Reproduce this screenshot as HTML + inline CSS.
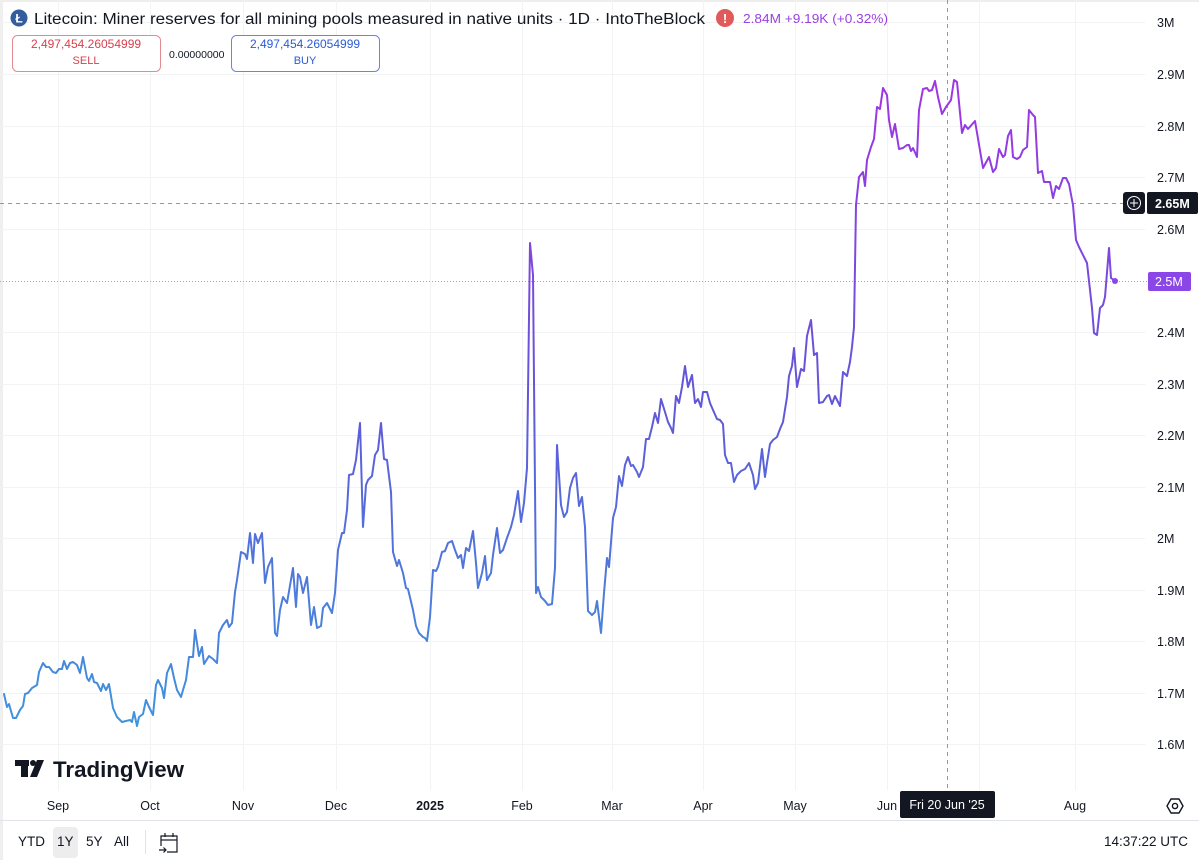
<!DOCTYPE html>
<html>
<head>
<meta charset="utf-8">
<style>
  html,body{margin:0;padding:0;background:#fff;}
  body{width:1199px;height:860px;overflow:hidden;}
  svg{display:block;font-family:"Liberation Sans",Arial,sans-serif;}
</style>
</head>
<body>
<svg width="1199" height="860" viewBox="0 0 1199 860" xmlns="http://www.w3.org/2000/svg">
  <defs>
    <linearGradient id="lg" gradientUnits="userSpaceOnUse" x1="0" y1="80" x2="0" y2="720">
      <stop offset="0" stop-color="#a134e4"/>
      <stop offset="0.5" stop-color="#6157d8"/>
      <stop offset="1" stop-color="#3f93de"/>
    </linearGradient>
  </defs>
  <rect x="0" y="0" width="1199" height="860" fill="#fff"/>
  <rect x="0" y="0" width="1199" height="2" fill="#eeeeee"/>
  <rect x="0" y="0" width="3" height="860" fill="#efefef"/>

  <!-- grid -->
  <g stroke="#f2f3f5" stroke-width="1">
    <line x1="0" y1="22.5" x2="1145" y2="22.5"/>
    <line x1="0" y1="74.5" x2="1145" y2="74.5"/>
    <line x1="0" y1="126.5" x2="1145" y2="126.5"/>
    <line x1="0" y1="177.5" x2="1145" y2="177.5"/>
    <line x1="0" y1="229.5" x2="1145" y2="229.5"/>
    <line x1="0" y1="332.5" x2="1145" y2="332.5"/>
    <line x1="0" y1="384.5" x2="1145" y2="384.5"/>
    <line x1="0" y1="435.5" x2="1145" y2="435.5"/>
    <line x1="0" y1="487.5" x2="1145" y2="487.5"/>
    <line x1="0" y1="538.5" x2="1145" y2="538.5"/>
    <line x1="0" y1="590.5" x2="1145" y2="590.5"/>
    <line x1="0" y1="641.5" x2="1145" y2="641.5"/>
    <line x1="0" y1="693.5" x2="1145" y2="693.5"/>
    <line x1="0" y1="744.5" x2="1145" y2="744.5"/>
    <line x1="58.5" y1="0" x2="58.5" y2="790"/>
    <line x1="150.5" y1="0" x2="150.5" y2="790"/>
    <line x1="243.5" y1="0" x2="243.5" y2="790"/>
    <line x1="336.5" y1="0" x2="336.5" y2="790"/>
    <line x1="430.5" y1="0" x2="430.5" y2="790"/>
    <line x1="522.5" y1="0" x2="522.5" y2="790"/>
    <line x1="612.5" y1="0" x2="612.5" y2="790"/>
    <line x1="703.5" y1="0" x2="703.5" y2="790"/>
    <line x1="795.5" y1="0" x2="795.5" y2="790"/>
    <line x1="887.5" y1="0" x2="887.5" y2="790"/>
    <line x1="979.5" y1="0" x2="979.5" y2="790"/>
    <line x1="1075.5" y1="0" x2="1075.5" y2="790"/>
  </g>

  <!-- crosshair & price line -->
  <line x1="0" y1="203.5" x2="1123" y2="203.5" stroke="#9598a1" stroke-width="1" stroke-dasharray="4 4"/>
  <line x1="947.5" y1="0" x2="947.5" y2="791" stroke="#9598a1" stroke-width="1" stroke-dasharray="4 4"/>
  <line x1="0" y1="281.5" x2="1148" y2="281.5" stroke="#a3a6ae" stroke-width="1" stroke-dasharray="1 2"/>

  <!-- series -->
  <polyline fill="none" stroke="url(#lg)" stroke-width="2" stroke-linejoin="round" stroke-linecap="round" points="
4,694 7,707 9,704 13,718 16,718 20,710 23,706 25,694 28,693 32,688 37,685 39,672 43,663 46,667 49,667 53,672 56,673 59,669 62,669 64,661 67,669 70,663 73,662 77,665 80,673 83,657 87,678 89,681 92,674 94,682 97,683 101,691 103,684 106,690 109,684 113,708 117,717 122,722 126,721 130,720 132,722 134,712 137,726 139,717 143,714 146,700 149,707 153,715 156,685 158,680 162,688 164,698 167,673 171,664 174,678 177,690 181,697 183,690 186,680 189,657 193,657 195,630 199,656 202,647 204,664 209,656 213,659 217,663 219,633 223,625 227,620 229,627 232,623 235,592 237,580 241,552 245,554 247,559 250,533 253,563 255,534 258,543 262,533 265,583 268,567 272,558 275,633 277,636 280,610 283,597 287,603 293,568 296,607 298,574
300,577 303,593 307,577 311,625 314,607 317,628 321,626 323,608 327,603 332,613 335,593 338,550 342,533 344,533 347,510 349,475 353,474 356,460 360,423 363,527 366,485 368,480 372,476 375,455 378,450 381,423 384,459 387,460 391,492 393,552 397,566 399,560 403,573 406,588 408,589 413,610 416,626 419,633 423,637 425,638 427,641 430,617 433,570 436,571 438,567 442,552 445,551 448,543 452,541 455,550 458,558 461,555 463,568 466,548 469,551 473,531 476,563 478,588 482,573 485,556 487,580 491,573 493,555 497,528 500,553 503,550 507,538 511,527 514,515 518,491 521,522 524,503 527,468 530,243 533,275 536,593 538,587 541,597 545,601 548,605 552,604 555,568 557,445 561,505 564,517 567,512 570,488 573,478 576,473 579,506 582,497 585,527 588,611 592,615 595,612 597,601 601,633 604,593 607,558 609,567 613,518 616,507 619,476 622,486 625,465 628,457
631,466 633,465 637,472 639,477 643,467 646,439 649,439 652,427 655,413 658,423 661,399 665,412 668,422 671,428 673,433 676,396 679,403 682,387 685,366 688,387 692,375 695,403 698,399 701,407 703,392 707,392 710,403 713,410 717,419 720,420 723,424 725,455 728,463 731,463 734,482 737,475 741,471 745,469 749,463 753,475 755,489 758,483 762,449 765,477 767,463 770,444 773,440 777,437 780,429 783,422 787,397 789,376 792,366 794,348 797,387 801,369 804,371 807,336 811,320 814,355 817,353 819,403 823,402 827,396 829,395 832,404 835,396 840,406 843,372 847,376 850,362 852,347 854,327
856,205 859,177 863,172 865,186 867,160 871,147 874,139 877,107 880,109 883,88 887,95 889,120 892,137 895,124 899,149 903,148 907,145 909,145 911,151 913,148 917,157 919,110 923,89 927,88 929,91 932,90 935,81 938,97 942,114 946,107 951,100 954,80 957,82 962,133 965,125 968,129 975,121 983,168 989,157 993,172 996,168 999,149 1003,157 1005,155 1008,136 1011,130 1013,157 1017,159 1020,157 1023,150 1027,147 1029,110 1033,115 1035,117 1038,173 1042,171 1044,182 1050,182 1053,198 1056,186 1059,189 1063,178 1066,178 1069,184 1073,205 1076,240 1079,247 1087,263 1092,308 1094,333 1097,335 1100,308 1103,305 1105,297 1109,248 1111,278 1115,281"/>
  <circle cx="1115" cy="281" r="3" fill="#8746e6"/>

  <!-- header -->
  <circle cx="19" cy="18" r="8.5" fill="#345d9d"/>
  <text x="19" y="22.5" font-size="12" font-weight="bold" fill="#fff" text-anchor="middle">Ł</text>
  <text x="34" y="24" font-size="15.5" fill="#131722" textLength="671" lengthAdjust="spacingAndGlyphs">Litecoin: Miner reserves for all mining pools measured in native units · 1D · IntoTheBlock</text>
  <circle cx="725" cy="18" r="9" fill="#e05a5a"/>
  <text x="725" y="23" font-size="13" font-weight="bold" fill="#fff" text-anchor="middle">!</text>
  <text x="743" y="23" font-size="13" fill="#9b3fe0" textLength="145" lengthAdjust="spacingAndGlyphs">2.84M  +9.19K (+0.32%)</text>

  <rect x="12.5" y="35.5" width="148" height="36" rx="5" fill="#fff" stroke="#e28a90"/>
  <text x="86" y="48" font-size="12" fill="#d8404e" text-anchor="middle">2,497,454.26054999</text>
  <text x="86" y="64" font-size="11" fill="#d8404e" text-anchor="middle">SELL</text>
  <text x="169" y="58" font-size="10.5" fill="#131722">0.00000000</text>
  <rect x="231.5" y="35.5" width="148" height="36" rx="5" fill="#fff" stroke="#6a86d8"/>
  <text x="305" y="48" font-size="12" fill="#2a5bd7" text-anchor="middle">2,497,454.26054999</text>
  <text x="305" y="64" font-size="11" fill="#2a5bd7" text-anchor="middle">BUY</text>

  <!-- y axis labels -->
  <g font-size="12.5" fill="#131722">
    <text x="1157" y="27">3M</text>
    <text x="1157" y="79">2.9M</text>
    <text x="1157" y="131">2.8M</text>
    <text x="1157" y="182">2.7M</text>
    <text x="1157" y="234">2.6M</text>
    <text x="1157" y="337">2.4M</text>
    <text x="1157" y="389">2.3M</text>
    <text x="1157" y="440">2.2M</text>
    <text x="1157" y="492">2.1M</text>
    <text x="1157" y="543">2M</text>
    <text x="1157" y="595">1.9M</text>
    <text x="1157" y="646">1.8M</text>
    <text x="1157" y="698">1.7M</text>
    <text x="1157" y="749">1.6M</text>
  </g>

  <!-- crosshair price label -->
  <rect x="1123" y="192" width="22" height="22" rx="3" fill="#131722"/>
  <circle cx="1134" cy="203" r="6.5" fill="none" stroke="#fff" stroke-width="1"/>
  <line x1="1130" y1="203" x2="1138" y2="203" stroke="#fff" stroke-width="1"/>
  <line x1="1134" y1="199" x2="1134" y2="207" stroke="#fff" stroke-width="1"/>
  <rect x="1147" y="192" width="51" height="22" rx="2" fill="#131722"/>
  <text x="1155" y="208" font-size="12.5" font-weight="bold" fill="#fff">2.65M</text>

  <!-- last price label -->
  <rect x="1148" y="272" width="43" height="19" rx="2" fill="#8b46e8"/>
  <text x="1155" y="286" font-size="12.5" fill="#fff">2.5M</text>

  <!-- TradingView logo -->
  <g fill="#131722">
    <rect x="15" y="760" width="14" height="6"/>
    <rect x="21" y="760" width="7" height="17"/>
    <circle cx="33" cy="763" r="3"/>
    <polygon points="37,760 44,760 37,777 30,777"/>
  </g>
  <text x="53" y="777" font-size="22" font-weight="bold" fill="#131722" textLength="131" lengthAdjust="spacingAndGlyphs">TradingView</text>

  <!-- time axis -->
  <g font-size="12.5" fill="#131722" text-anchor="middle">
    <text x="58" y="810">Sep</text>
    <text x="150" y="810">Oct</text>
    <text x="243" y="810">Nov</text>
    <text x="336" y="810">Dec</text>
    <text x="430" y="810" font-weight="bold">2025</text>
    <text x="522" y="810">Feb</text>
    <text x="612" y="810">Mar</text>
    <text x="703" y="810">Apr</text>
    <text x="795" y="810">May</text>
    <text x="887" y="810">Jun</text>
    <text x="1075" y="810">Aug</text>
  </g>
  <rect x="900" y="791" width="95" height="27" rx="2" fill="#131722"/>
  <text x="947" y="809" font-size="12.5" fill="#fff" text-anchor="middle">Fri 20 Jun '25</text>
  <!-- settings icon -->
  <polygon points="1171,799 1179,799 1183,806 1179,813 1171,813 1167,806" fill="none" stroke="#131722" stroke-width="1.4" stroke-linejoin="round"/>
  <circle cx="1175" cy="806" r="2.6" fill="none" stroke="#131722" stroke-width="1.4"/>

  <line x1="0" y1="820.5" x2="1199" y2="820.5" stroke="#e0e3eb" stroke-width="1"/>

  <!-- bottom toolbar -->
  <rect x="53" y="827" width="25" height="31" rx="4" fill="#ededed"/>
  <g font-size="13.5" fill="#131722">
    <text x="18" y="846">YTD</text>
    <text x="57" y="846">1Y</text>
    <text x="86" y="846">5Y</text>
    <text x="114" y="846">All</text>
    <text x="1188" y="846" text-anchor="end">14:37:22 UTC</text>
  </g>
  <line x1="145.5" y1="830" x2="145.5" y2="854" stroke="#e0e3eb"/>
  <g fill="none" stroke="#131722" stroke-width="1.2">
    <path d="M161,846 V836 H177 V852 H167"/>
    <line x1="161" y1="840" x2="177" y2="840"/>
    <line x1="165" y1="833" x2="165" y2="837"/>
    <line x1="173" y1="833" x2="173" y2="837"/>
    <path d="M159,850 H166 M163.5,847.5 L166,850 L163.5,852.5"/>
  </g>
</svg>
</body>
</html>
